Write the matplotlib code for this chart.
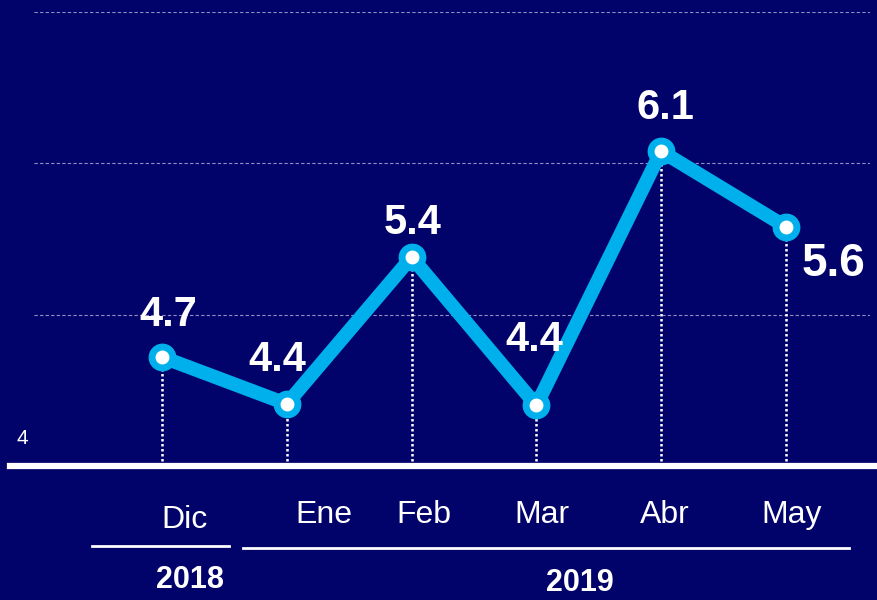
import matplotlib.pyplot as plt
from matplotlib.lines import Line2D

plt.rcParams['font.family'] = ['Liberation Sans', 'DejaVu Sans']

months = ["Dic", "Ene", "Feb", "Mar", "Abr", "May"]
values = [4.72, 4.41, 5.38, 4.40, 6.08, 5.58]
value_labels = ["4.7", "4.4", "5.4", "4.4", "6.1", "5.6"]
years = ["2018", "2019"]
grid_levels = [5, 6, 7]

BG = "#02026b"
CYAN = "#00b0ec"
W, H = 877, 600

# label offsets from each point, in pixels (x right, y down)
label_off = [(6, -42), (-9, -44), (1, -34), (-2, -65), (4, -43), (47, 37)]
label_size = [30, 30, 30, 30, 30, 33]
# month label centres (pixels)
month_px = [(184, 520), (324, 515), (424, 515), (542, 515), (665, 515), (792, 515)]


def fy(py):
    return 1 - py / H


fig = plt.figure(figsize=(W / 100, H / 100), dpi=100)
fig.patch.set_facecolor(BG)
ax = fig.add_axes([34 / W, fy(466), 836 / W, 454 / H])
ax.set_facecolor(BG)

x = list(range(len(months)))
step = 124.8
ax.set_xlim(-(162 - 34) / step, len(months) - 1 + (870 - 786) / step)
ax.set_ylim(4, 7)

for g in grid_levels:
    ax.axhline(g, color="#9090c0", lw=0.8, ls=(0, (3, 2)), zorder=1)

ax.vlines(x, 4, values, colors="white", lw=1.8, linestyles=(0, (1, 1)), zorder=2)
ax.plot(x, values, color=CYAN, lw=10, marker="o", ms=15, mfc="white",
        mec=CYAN, mew=5, zorder=3, clip_on=False)

for xi, v, lab, off, fs in zip(x, values, value_labels, label_off, label_size):
    ax.annotate(lab, (xi, v), xytext=(off[0] * 0.72, -off[1] * 0.72),
                textcoords="offset points", ha="center", va="center",
                color="white", fontsize=fs, fontweight="bold")

for s in ax.spines.values():
    s.set_visible(False)
ax.set_xticks([])
ax.set_yticks([])

# baseline and y label
fig.add_artist(Line2D([10 / W, 1], [fy(466), fy(466)], color="white", lw=4.5))
fig.text(22 / W, fy(438), "4", ha="center", va="center", color="white", fontsize=15)

for m, (px, py) in zip(months, month_px):
    fig.text(px / W, fy(py), m, ha="center", va="center", color="white", fontsize=23)

# year groups
fig.add_artist(Line2D([92 / W, 229 / W], [fy(546), fy(546)], color="white", lw=2))
fig.add_artist(Line2D([243 / W, 849 / W], [fy(548), fy(548)], color="white", lw=2))
fig.text(190 / W, fy(580), years[0], ha="center", va="center", color="white",
         fontsize=22, fontweight="bold")
fig.text(580 / W, fy(583), years[1], ha="center", va="center", color="white",
         fontsize=22, fontweight="bold")

fig.savefig("out.png", dpi=100, facecolor=BG)
